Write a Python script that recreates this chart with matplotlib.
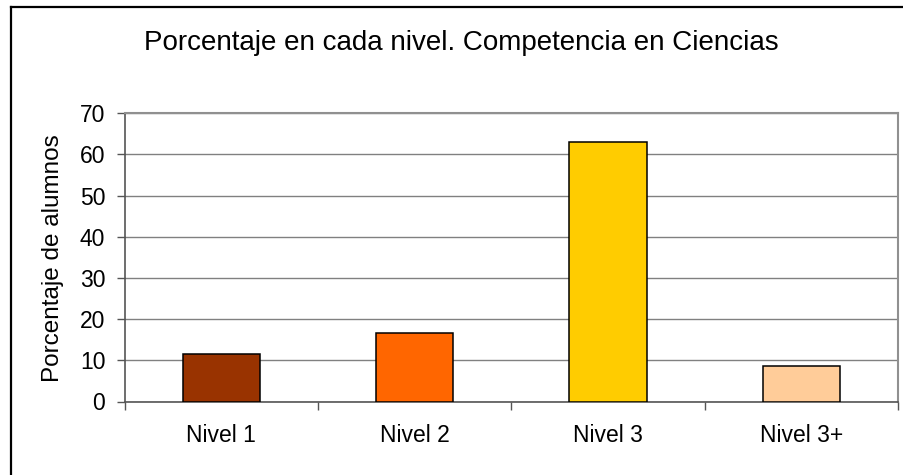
import matplotlib
matplotlib.use("Agg")
import matplotlib.pyplot as plt
from matplotlib.lines import Line2D
import numpy as np

# data
niveles = ["Nivel 1", "Nivel 2", "Nivel 3", "Nivel 3+"]
porcentajes = [11.6, 16.6, 63.1, 8.7]
colores = ["#993300", "#FF6600", "#FFCC00", "#FFCC99"]
y_ticks = [0, 10, 20, 30, 40, 50, 60, 70]

plt.rcParams["font.family"] = ["Liberation Sans", "DejaVu Sans"]

W, H = 904, 475
fig = plt.figure(figsize=(W / 100, H / 100), dpi=100)
fig.patch.set_facecolor("white")

# plot area in pixel coords
left, right, top, bottom = 124.7, 898, 113.3, 401.5
ax = fig.add_axes([left / W, (H - bottom) / H, (right - left) / W, (bottom - top) / H])

x = np.arange(len(niveles))
ax.bar(x, porcentajes, width=0.4, color=colores, edgecolor="black", linewidth=1.1, zorder=3)

ax.set_xlim(-0.5, len(niveles) - 0.5)
ax.set_ylim(0, 70)
ax.set_yticks(y_ticks)
ax.yaxis.grid(True, color="#808080", linewidth=1.0, zorder=0)
ax.set_axisbelow(True)

# category labels centred, tick marks on the boundaries
ax.set_xticks(x)
ax.set_xticklabels(niveles)
ax.set_xticks(np.arange(-0.5, len(niveles), 1.0), minor=True)
ax.tick_params(axis="x", which="major", length=0, pad=16, labelsize=16.5)
ax.tick_params(axis="x", which="minor", length=6, width=1.0, color="#555555", direction="out")
ax.tick_params(axis="y", length=6, width=1.0, color="#555555", direction="out", pad=8, labelsize=16.5)

for s in ["left", "bottom"]:
    ax.spines[s].set_color("#555555")
    ax.spines[s].set_linewidth(1.2)
for s in ["top", "right"]:
    ax.spines[s].set_color("#909090")
    ax.spines[s].set_linewidth(1.5)

fig.text(53 / W, 1 - 258 / H, "Porcentaje de alumnos", rotation=90,
         ha="center", va="center", fontsize=17.5)
fig.text(461.5 / W, 1 - 50 / H, "Porcentaje en cada nivel. Competencia en Ciencias",
         ha="center", va="baseline", fontsize=20)

# chart-area border (only left and top sides fall inside the picture)
fig.add_artist(Line2D([11 / W, 11 / W], [0, 1 - 7 / H], color="black", linewidth=1.6,
                      transform=fig.transFigure))
fig.add_artist(Line2D([11 / W, 1], [1 - 7 / H, 1 - 7 / H], color="black", linewidth=1.6,
                      transform=fig.transFigure))

fig.savefig("out.png", dpi=100)
